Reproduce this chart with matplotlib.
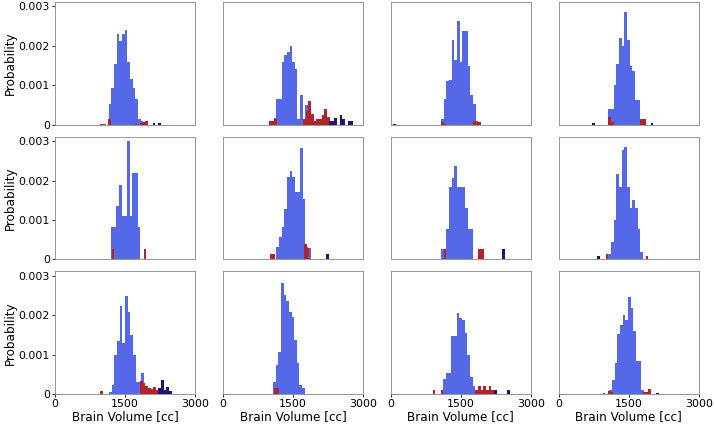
import numpy as np
import matplotlib
matplotlib.use("Agg")
import matplotlib.pyplot as plt

# bin width of every histogram [cc]
bin_width = 57

# left edge of the first bin and the bar heights, one entry per panel
# (panels in reading order: row by row, left to right)
blue_start = [1036, 1085, 1078, 1064, 1200, 1142, 1078, 1064, 1157, 1071, 1128, 1085]
blue_heights = [
    [0.00003, 0, 0.00053, 0.00094, 0.00155, 0.00231, 0.00212, 0.00231, 0.0024, 0.0016,
     0.00115, 0.00092, 0.00064, 0.00015, 0.0001, 0.00005],
    [0.00018, 0.00064, 0.00064, 0.0016, 0.00176, 0.00185, 0.002, 0.0016, 0.00142, 0.00015,
     0.00076, 0.00015, 0.0005],
    [0.00015, 0.00064, 0.0011, 0.00113, 0.00214, 0.00165, 0.00264, 0.0016, 0.00237, 0.00237,
     0.0015, 0.00075, 0.00053, 0.0001, 0.00005],
    [0.00039, 0.00039, 0.001, 0.00155, 0.0022, 0.002, 0.00286, 0.00214, 0.00148, 0.00136,
     0.00062, 0.00062, 0.00008],
    [0.00083, 0.00083, 0.00136, 0.0019, 0.0011, 0.0011, 0.003, 0.0011, 0.0022, 0.0022, 0.00083],
    [0.00032, 0.00058, 0.00083, 0.00127, 0.0021, 0.00225, 0.0021, 0.00172, 0.00172, 0.00282,
     0.00153, 0.00032, 0.00028],
    [0.00026, 0.00026, 0.00077, 0.00183, 0.00208, 0.00237, 0.00183, 0.00183, 0.00183, 0.0013,
     0.00077, 0.00077],
    [0.00015, 0.00045, 0.001, 0.00216, 0.00183, 0.00278, 0.00285, 0.00183, 0.0013, 0.0015,
     0.0013, 0.00077, 0.0002],
    [0.00005, 0.00024, 0.001, 0.00134, 0.00223, 0.0013, 0.0025, 0.0021, 0.0015, 0.001,
     0.0003, 0.0003, 0.00053],
    [0.00032, 0.00075, 0.00107, 0.00282, 0.00253, 0.00236, 0.0021, 0.00197, 0.00138, 0.00079,
     0.00024, 0.00015],
    [0.0004, 0.00053, 0.00053, 0.00147, 0.00147, 0.00206, 0.00193, 0.00189, 0.00155, 0.001,
     0.00045, 0.00022],
    [0.0001, 0.00036, 0.00079, 0.00153, 0.00176, 0.002, 0.00189, 0.00246, 0.0022, 0.0016,
     0.00085, 0.00085, 0.0001],
]

red_start = [964, 978, 1078, 1064, 1214, 1000, 1135, 1006, 964, 1085, 899, 942]
red_heights = [
    [0.00003, 0, 0, 0.00015, 0, 0, 0, 0, 0, 0, 0, 0, 0, 0.00003, 0, 0.00005, 0.00007, 0.0001],
    [0.00009, 0.00009, 0.00015, 0, 0, 0, 0, 0, 0, 0, 0, 0, 0, 0.00015, 0.00034, 0.0006,
     0.00028, 0.0001, 0.00015, 0.00015, 0.00024, 0.0004, 0.0002, 0.00008],
    [0.00008, 0.00003, 0, 0, 0, 0, 0, 0, 0, 0, 0, 0, 0.0001, 0.00008, 0.00008],
    [0.0002, 0.00007, 0, 0, 0, 0, 0, 0, 0, 0, 0, 0, 0.00015, 0.00015],
    [0.00026, 0, 0, 0, 0, 0, 0, 0, 0, 0, 0, 0, 0.00026],
    [0.00015, 0.00015, 0, 0, 0, 0, 0, 0, 0, 0, 0, 0, 0, 0.0004, 0.0003],
    [0.00026, 0, 0, 0, 0, 0, 0, 0, 0, 0, 0, 0, 0, 0.00026, 0.00026],
    [0.00015, 0, 0, 0, 0, 0, 0, 0, 0, 0, 0, 0, 0, 0, 0, 0.00008],
    [0.00008, 0, 0, 0, 0, 0, 0, 0, 0, 0, 0, 0, 0, 0, 0, 0.00034, 0.00028, 0.0002, 0.00015,
     0.00013, 0.00018, 0.0001],
    [0.00015, 0.00015],
    [0.0001, 0, 0, 0.0001, 0, 0, 0, 0, 0, 0, 0, 0, 0, 0, 0, 0, 0.00011, 0.0002, 0.00011,
     0.0002, 0.00011, 0.0002, 0.00011],
    [0.00004, 0, 0.00009, 0.00005, 0, 0, 0, 0, 0, 0, 0, 0, 0, 0, 0, 0.00005, 0.00005, 0.00013],
]

navy_start = [2093, 2271, 56, 720, None, 2214, 2392, 828, 2214, None, 2214, 2085]
navy_heights = [
    [0.00004, 0, 0.00004],
    [0.00009, 0.00009, 0.00018, 0, 0.00025, 0.00015, 0, 0.00009, 0.00009],
    [0.00003],
    [0.00004] + [0] * 21 + [0.00004],
    [],
    [0.00013],
    [0.00026],
    [0.00008],
    [0.00015, 0.00035, 0.0001, 0.00018, 0.00009],
    [],
    [0.0001, 0, 0, 0, 0, 0.0001],
    [0.00004],
]

blue_color = "#5468e8"
red_color = "#b0242a"
navy_color = "#231070"

plt.rcParams["font.family"] = "DejaVu Sans"
plt.rcParams["font.size"] = 11

DPI = 72
fig, axes = plt.subplots(3, 4, figsize=(714 / DPI, 427 / DPI), dpi=DPI)
fig.subplots_adjust(left=0.077, right=0.9786, top=0.996, bottom=0.0766,
                    wspace=0.198, hspace=0.096)


def draw_bars(ax, start, heights, color):
    if start is None or len(heights) == 0:
        return
    lefts = start + bin_width * np.arange(len(heights))
    ax.bar(lefts, heights, width=bin_width, align="edge", color=color, linewidth=0)


for i, ax in enumerate(axes.flat):
    row, col = divmod(i, 4)
    draw_bars(ax, blue_start[i], blue_heights[i], blue_color)
    draw_bars(ax, red_start[i], red_heights[i], red_color)
    draw_bars(ax, navy_start[i], navy_heights[i], navy_color)

    ax.set_xlim(0, 3000)
    ax.set_ylim(0, 0.00312)
    for s in ax.spines.values():
        s.set_color("#808080")
        s.set_linewidth(0.8)
    ax.tick_params(length=3, pad=2)

    if col == 0:
        ax.set_yticks([0, 0.001, 0.002, 0.003])
        ax.set_yticklabels(["0", "0.001", "0.002", "0.003"])
        ax.set_ylabel("Probability", fontsize=12, labelpad=2)
    else:
        ax.set_yticks([])
    if row == 2:
        ax.set_xticks([0, 1500, 3000])
        ax.set_xticklabels(["0", "1500", "3000"])
        ax.set_xlabel("Brain Volume [cc]", fontsize=12, labelpad=1)
    else:
        ax.set_xticks([])

fig.savefig("out.png", dpi=DPI)
